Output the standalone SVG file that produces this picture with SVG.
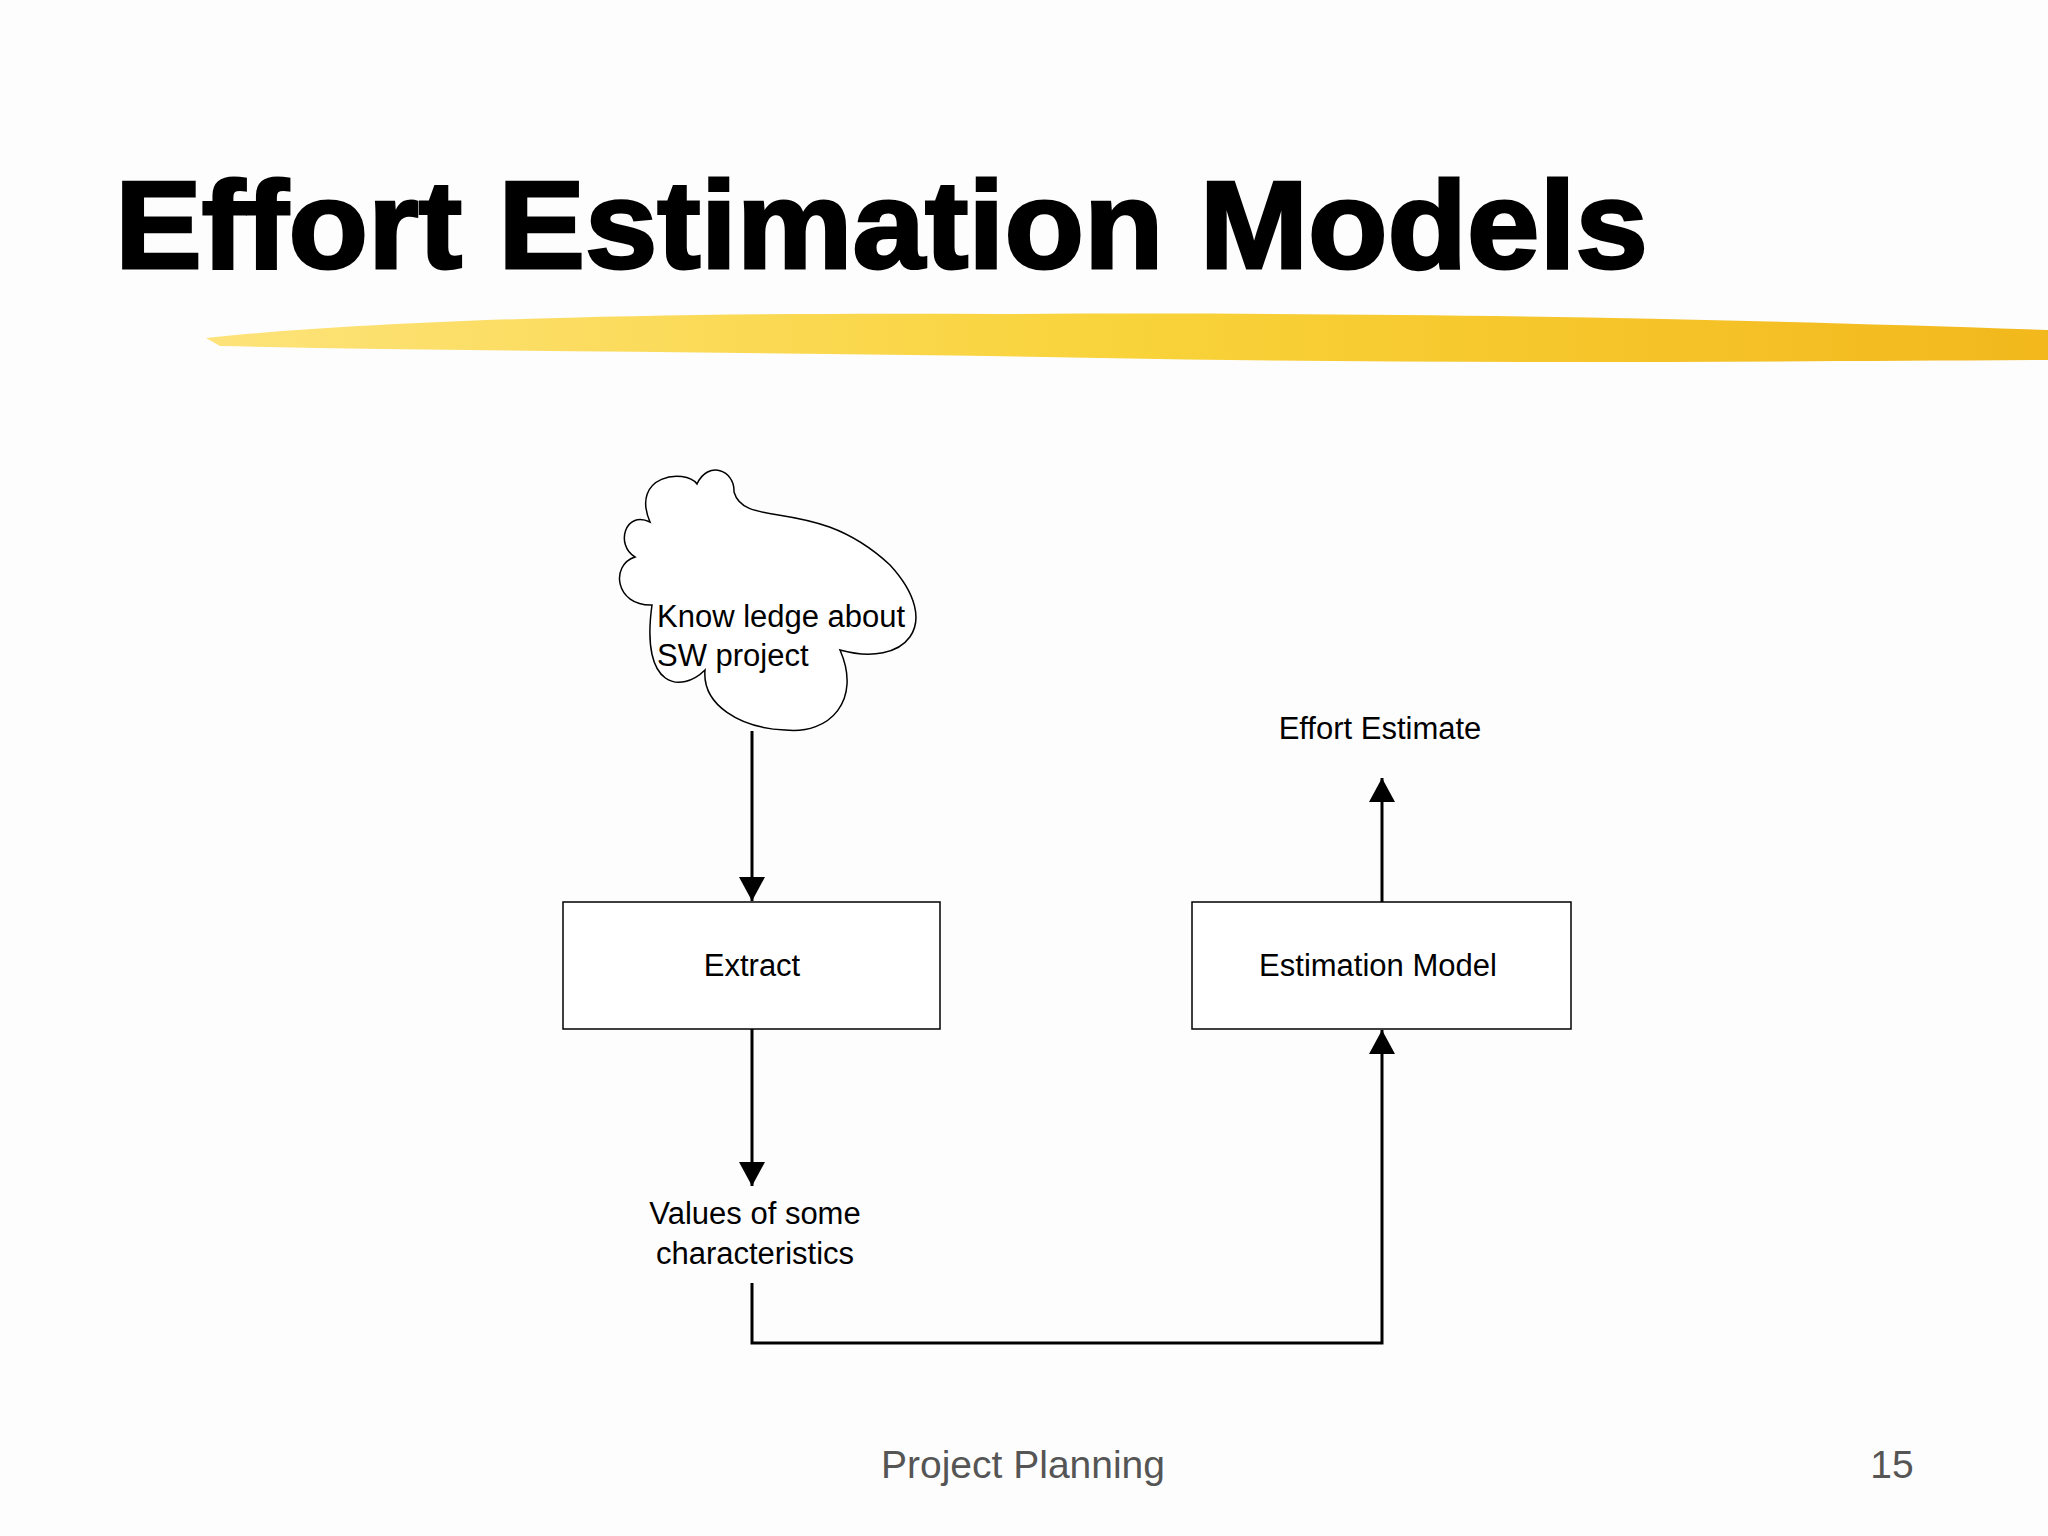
<svg xmlns="http://www.w3.org/2000/svg" width="2048" height="1536" viewBox="0 0 2048 1536">
<defs>
<style>
.t{font-family:"Liberation Sans",Arial,sans-serif;font-size:31px;fill:#000}
.b{fill:#fff;stroke:#000;stroke-width:1.5}
.c{stroke:#000;stroke-width:3;fill:none}
</style>
<marker id="a" markerWidth="10" markerHeight="10" refX="9" refY="5" orient="auto" markerUnits="userSpaceOnUse" viewBox="0 0 10 10">
<path d="M0,0 L10,5 L0,10 z" fill="#000" transform="scale(1)"/>
</marker>
<marker id="ah" viewBox="0 0 24 26" refX="24" refY="13" markerWidth="24" markerHeight="26" orient="auto" markerUnits="userSpaceOnUse"><path d="M0,0 L24,13 L0,26 z" fill="#000"/></marker>
<linearGradient id="y" x1="0" x2="1"><stop offset="0" stop-color="#fde37a"/><stop offset="0.5" stop-color="#f9d33a"/><stop offset="1" stop-color="#f2b81c"/></linearGradient>
</defs>
<rect width="2048" height="1536" fill="#fdfdfd"/>
<text x="115" y="268" font-family="Liberation Sans,Arial,sans-serif" font-weight="900" font-size="124" textLength="1533" lengthAdjust="spacingAndGlyphs" style="stroke:#000;stroke-width:3">Effort Estimation Models</text>
<path d="M206,338 C400,318 700,312 1000,314 C1400,312 1700,318 2048,330 L2048,360 C1700,362 1400,364 1100,358 C800,352 500,352 220,346 Z" fill="url(#y)"/>
<g id="cloud">
<path class="b" d="M652,605 C615,606 610,565 635,557 C615,545 625,510 650,522 C630,475 685,468 697,484 C708,460 735,470 734,492 C745,530 815,495 890,565 C945,625 905,668 840,650 C862,700 830,735 785,730 C740,728 702,705 705,670 C682,693 640,690 652,605 Z"/>
<text class="t" x="657" y="627">Know ledge about</text>
<text class="t" x="657" y="666">SW project</text>
</g>
<g id="extract"><rect class="b" x="563" y="902" width="377" height="127"/><text class="t" x="752" y="976" text-anchor="middle">Extract</text></g>
<g id="model"><rect class="b" x="1192" y="902" width="379" height="127"/><text class="t" x="1378" y="976" text-anchor="middle">Estimation Model</text></g>
<g id="values"><text class="t" x="755" y="1224" text-anchor="middle">Values of some</text><text class="t" x="755" y="1264" text-anchor="middle">characteristics</text></g>
<g id="effort"><text class="t" x="1380" y="739" text-anchor="middle">Effort Estimate</text></g>
<g id="connectors">
<path class="c" d="M752,731 V901" marker-end="url(#ah)"/>
<path class="c" d="M752,1029 V1186" marker-end="url(#ah)"/>
<path class="c" d="M752,1283 V1343 H1382 V1030" marker-end="url(#ah)"/>
<path class="c" d="M1382,902 V778" marker-end="url(#ah)"/>
</g>
<text x="1023" y="1478" text-anchor="middle" font-family="Liberation Sans,Arial,sans-serif" font-size="39" fill="#555">Project Planning</text>
<text x="1892" y="1478" text-anchor="middle" font-family="Liberation Sans,Arial,sans-serif" font-size="39" fill="#555">15</text>
</svg>
